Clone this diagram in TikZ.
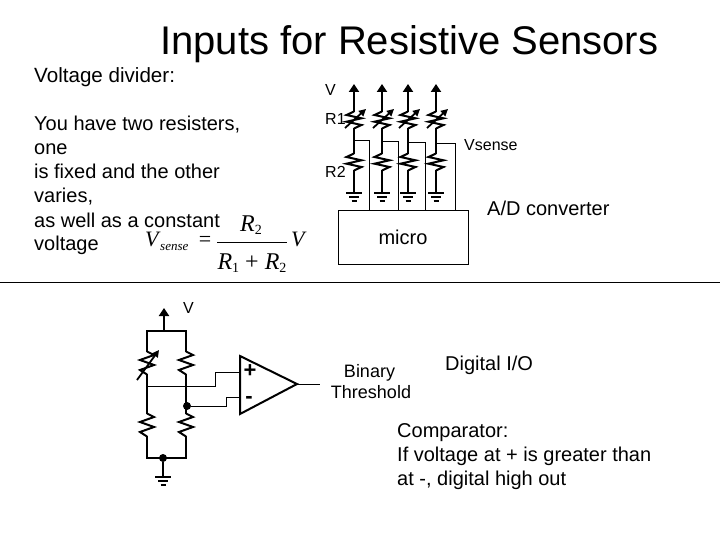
\documentclass[tikz,border=0pt]{standalone}
\usepackage{fontspec}
\setmainfont{Liberation Sans}
\newfontfamily\serifface{Liberation Serif}
\usetikzlibrary{arrows.meta,calc}
\tikzset{
 thin wire/.style={line width=1pt,draw=black},
 wire/.style={line width=2pt,draw=black,line join=miter},
 up arrow/.style={line width=2pt,draw=black,-{Triangle[length=8pt,width=10pt]}},
 var arrow/.style={line width=1.8pt,-{Triangle[length=7pt,width=7pt]}},
 txt/.style={inner sep=0pt,anchor=base west,font=\fontsize{20}{24}\selectfont},
 small/.style={inner sep=0pt,anchor=base west,font=\fontsize{16}{20}\selectfont},
 big/.style={inner sep=0pt,anchor=base west,font=\fontsize{20}{24}\selectfont},
 eq/.style={inner sep=0pt,font=\serifface\itshape\fontsize{22}{22}\selectfont},
 dot/.style={circle,fill=black,inner sep=0pt,minimum size=8pt},
 pics/res/.style={code={\draw[wire] (0,-8.5)--(-7.5,-5)--(7.5,-1.7)--(-7.5,1.7)--(7.5,5)--(0,8.5);}},
 pics/restall/.style={code={\draw[wire] (0,-11.5)--(7,-8)--(-7,-3)--(7,2)--(-7,7)--(0,11.5);}},
 pics/gnd/.style={code={\draw[wire] (-8,0)--(8,0);\draw[wire] (-5,4)--(5,4);\draw[wire] (-2.5,8)--(2.5,8);}},
}
\begin{document}
\begin{tikzpicture}[x=1pt,y=-1pt]
\useasboundingbox (0,0) rectangle (720,540);
% title and text
\node[inner sep=0pt,anchor=base west,font=\fontsize{40}{42}\selectfont] (title) at (160,55) {Inputs for Resistive Sensors};
\node[txt,font=\fontsize{20.6}{24}\selectfont] (t1) at (34,83) {Voltage divider:};
\node[txt] (t2) at (34,131) {You have two resisters,};
\node[txt] (t3) at (34,155) {one};
\node[txt] (t4) at (34,179) {is fixed and the other};
\node[txt] (t5) at (34,203) {varies,};
\node[txt] (t6) at (34,227) {as well as a constant};
\node[txt] (t7) at (34,251) {voltage};
% equation
\node[eq,anchor=base west] (vs) at (145,246) {V};
\node[eq,anchor=base west,font=\serifface\itshape\fontsize{13}{13}\selectfont] (vss) at (160,251) {sense};
\node[eq,anchor=base,font=\serifface\fontsize{22}{22}\selectfont] (equals) at (205,247) {=};
\coordinate (fl) at (217,242); \coordinate (fr) at (287,242);
\draw[line width=1pt] (fl)--(fr);
\node[eq,anchor=base,font=\serifface\itshape\fontsize{24}{24}\selectfont] (r2a) at (251,232) {R\raisebox{-3pt}{\upshape\fontsize{14}{14}\selectfont 2}};
\node[eq,anchor=base,font=\serifface\itshape\fontsize{24}{24}\selectfont] (den) at (252,269) {R\raisebox{-3pt}{\upshape\fontsize{14}{14}\selectfont 1} {\upshape +} R\raisebox{-3pt}{\upshape\fontsize{14}{14}\selectfont 2}};
\node[eq,anchor=base west] (vr) at (291,246) {V};
% rule
\coordinate (hl) at (0,282); \coordinate (hr) at (720,282);
\draw[line width=1pt] (hl)--(hr);
% upper labels
\node[small] (lv) at (325,96) {V};
\node[small] (lr1) at (325,125) {R1};
\node[small] (lr2) at (325,178) {R2};
\node[small] (lvs) at (464,151) {Vsense};
\node[big] (ladc) at (487,215) {A/D converter};
\node[draw=black,line width=1pt,minimum width=130pt,minimum height=53pt,inner sep=0pt,font=\fontsize{20}{24}\selectfont] (micro) at (403,237.5) {micro};
% upper columns
\foreach \n/\x/\ty/\tx in {a/354/141/369,b/382/142/398,c/408/143/425,d/436/144/455}{
 \coordinate (top\n) at (\x,84);
 \coordinate (r1\n) at (\x,120);
 \coordinate (tap\n) at (\x,\ty);
 \coordinate (r2\n) at (\x,162);
 \coordinate (g\n) at (\x,193);
 \coordinate (bend\n) at (\tx,\ty);
 \coordinate (in\n) at (\tx,211);
 \draw[up arrow] ($(r1\n)+(0,-8)$) -- (top\n);
 \draw[wire] ($(r1\n)+(0,8)$) -- ($(r2\n)+(0,-8)$);
 \draw[wire] ($(r2\n)+(0,8)$) -- (g\n);
 \pic at (r1\n) {res};
 \pic at (r2\n) {res};
 \draw[var arrow] ($(r1\n)+(-9,8)$) -- ($(r1\n)+(12,-11)$);
 \pic at (g\n) {gnd};
 \draw[thin wire] (tap\n) -- (bend\n) -- (in\n);
}
% lower circuit
\node[small] (lv2) at (183,313) {V};
\coordinate (vtop) at (164,308);
\coordinate (vbase) at (164,331);
\coordinate (tl) at (147,331); \coordinate (tr) at (186,331);
\coordinate (r1l) at (147,363); \coordinate (r1r) at (186,363);
\coordinate (r2l) at (147,425); \coordinate (r2r) at (186,425);
\coordinate (bl) at (147,458); \coordinate (br) at (186,458);
\coordinate (midl) at (147,386);
\coordinate (midr) at (187,406);
\coordinate (gn) at (163,458);
\coordinate (g2) at (163,477);
\draw[up arrow] (vbase) -- (vtop);
\draw[wire] ($(r1l)+(0,-11)$) -- (tl) -- (tr) -- ($(r1r)+(0,-11)$);
\draw[wire] ($(r1l)+(0,11)$) -- ($(r2l)+(0,-11)$);
\draw[wire] ($(r1r)+(0,11)$) -- ($(r2r)+(0,-11)$);
\draw[wire] ($(r2l)+(0,11)$) -- (bl) -- (br) -- ($(r2r)+(0,11)$);
\foreach \p in {r1l,r1r,r2l,r2r}{
 \pic at (\p) {restall};
}
\draw[var arrow] (137,380) -- (159,350);
\node[dot] (dm) at (midr) {};
\node[dot] (db) at (gn) {};
\draw[wire] (db) -- (g2);
\pic at (g2) {gnd};
% comparator
\coordinate (oa1) at (240,356); \coordinate (oa2) at (240,414); \coordinate (oa3) at (297,384);
\draw[wire] (oa1) -- (oa2) -- (oa3) -- cycle;
\coordinate (plusin) at (240,372); \coordinate (minusin) at (240,397); \coordinate (outend) at (320,384);
\draw[thin wire] (midl) -- (215,386) -- (215,372) -- (plusin);
\draw[thin wire] (dm) -- (226,406) -- (226,397) -- (minusin);
\draw[thin wire] (oa3) -- (outend);
\node[inner sep=0pt,font=\bfseries\fontsize{22}{22}\selectfont] (pl) at (250,371) {+};
\node[inner sep=0pt,font=\bfseries\fontsize{22}{22}\selectfont] (mi) at (249,400) {-};
% lower labels
\node[small,anchor=base,font=\fontsize{18}{22}\selectfont] (lb1) at (369.5,377) {Binary};
\node[small,anchor=base,font=\fontsize{18}{22}\selectfont] (lb2) at (371,398) {Threshold};
\node[big] (ldig) at (445,370) {Digital I/O};
\node[big] (c1) at (397,437) {Comparator:};
\node[big] (c2) at (397,461) {If voltage at + is greater than};
\node[big] (c3) at (397,485) {at -, digital high out};
\end{tikzpicture}
\end{document}
